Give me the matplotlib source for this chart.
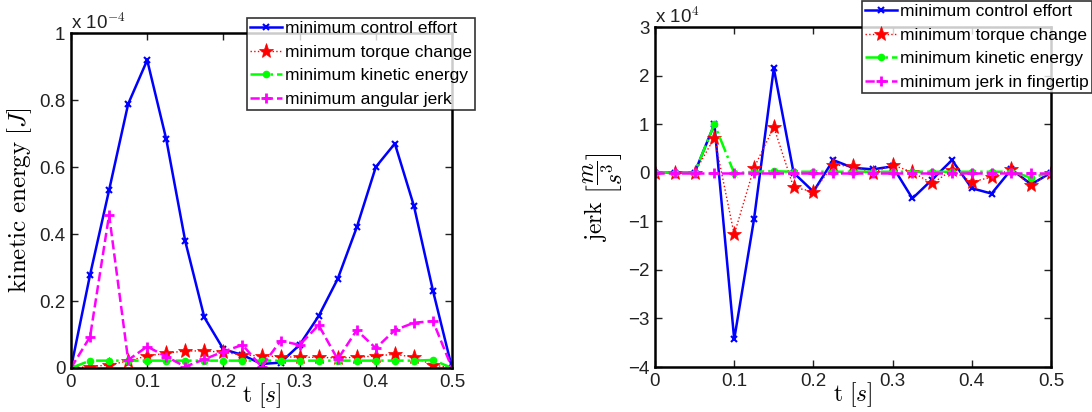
import matplotlib
matplotlib.use("Agg")
import matplotlib.pyplot as plt
import numpy as np

plt.rcParams['font.family'] = ['Liberation Sans', 'DejaVu Sans']
plt.rcParams['mathtext.fontset'] = 'cm'

t = [0, 0.025, 0.05, 0.075, 0.1, 0.125, 0.15, 0.175, 0.2, 0.225, 0.25,
     0.275, 0.3, 0.325, 0.35, 0.375, 0.4, 0.425, 0.45, 0.475, 0.5]

# Kinetic energy, in units of 1e-4 J
ke_control = [0, 0.278, 0.531, 0.788, 0.919, 0.683, 0.378, 0.151, 0.056, 0.039, 0.012,
              0.016, 0.069, 0.155, 0.266, 0.42, 0.60, 0.67, 0.484, 0.231, 0]
ke_torque = [0, 0.004, 0.009, 0.021, 0.036, 0.044, 0.051, 0.051, 0.047, 0.039, 0.036,
             0.034, 0.032, 0.032, 0.030, 0.032, 0.036, 0.041, 0.032, 0.009, 0]
ke_kinetic = [0, 0.022, 0.022, 0.022, 0.022, 0.022, 0.022, 0.022, 0.022, 0.022, 0.022,
              0.022, 0.022, 0.022, 0.022, 0.022, 0.022, 0.022, 0.022, 0.024, 0]
ke_angjerk = [0, 0.093, 0.457, 0.024, 0.064, 0.034, 0.004, 0.026, 0.049, 0.069, 0.004,
              0.081, 0.069, 0.128, 0.026, 0.113, 0.059, 0.113, 0.135, 0.140, 0]

# Jerk, in units of 1e4 m/s^3
jk_control = [0, 0, 0, 1.0, -3.43, -0.96, 2.15, 0.0, -0.39, 0.26, 0.10,
              0.07, 0.13, -0.53, -0.14, 0.26, -0.32, -0.43, 0.07, -0.24, 0]
jk_torque = [0, 0, 0, 0.72, -1.27, 0.10, 0.94, -0.30, -0.39, 0.16, 0.13,
             0.0, 0.16, 0.01, -0.22, 0.05, -0.19, -0.09, 0.07, -0.26, 0]
jk_kinetic = [0, 0, 0, 1.0, -0.01, 0.02, 0.03, 0.02, 0.02, 0.02, 0.02,
              0.02, 0.02, 0.02, 0.02, 0.02, 0.02, 0.02, 0.02, -0.10, 0]
jk_fingertip = [0] * 21

legend_left = ['minimum control effort', 'minimum torque change',
               'minimum kinetic energy', 'minimum angular jerk']
legend_right = ['minimum control effort', 'minimum torque change',
                'minimum kinetic energy', 'minimum jerk in fingertip']

fig = plt.figure(figsize=(10.92, 4.12), dpi=100)
ax1 = fig.add_axes([71/1092, 1-368/412, (452-71)/1092, (368-33)/412])
ax2 = fig.add_axes([655/1092, 1-367/412, (1051-655)/1092, (367-27)/412])

blue = '#0000ff'
red = '#ff0000'
green = '#00ff00'
mag = '#ff00ff'


def draw(ax, ys, labels):
    ax.plot(t, ys[0], '-', color=blue, lw=1.8, marker='x', ms=4, mew=1.5, label=labels[0])
    ax.plot(t, ys[1], ':', color=red, lw=1.0, marker='*', ms=11, mew=0.5,
            label=labels[1])
    ax.plot(t, ys[2], '-.', color=green, lw=1.8, marker='.', ms=9, label=labels[2])
    ax.plot(t, ys[3], '--', color=mag, lw=1.8, marker='+', ms=7, mew=2, label=labels[3])


draw(ax1, [ke_control, ke_torque, ke_kinetic, ke_angjerk], legend_left)
draw(ax2, [jk_control, jk_torque, jk_kinetic, jk_fingertip], legend_right)

for ax in (ax1, ax2):
    ax.set_xlim(0, 0.5)
    ax.set_xticks([0, 0.1, 0.2, 0.3, 0.4, 0.5])
    ax.set_xticklabels(['0', '0.1', '0.2', '0.3', '0.4', '0.5'])
    ax.tick_params(direction='in', top=True, right=True, length=5, width=1,
                   labelsize=13.5, colors='#222222', pad=4)
    for s in ax.spines.values():
        s.set_linewidth(1.8)
        s.set_color('black')
    ax.set_xlabel(r'$\mathrm{t}\ [s]$', fontsize=17, labelpad=-7)

ax1.set_ylim(0, 1)
ax1.set_yticks([0, 0.2, 0.4, 0.6, 0.8, 1])
ax1.set_yticklabels(['0', '0.2', '0.4', '0.6', '0.8', '1'])
ax1.set_ylabel(r'$\mathrm{kinetic\ energy}\ [J]$', fontsize=18, labelpad=4)
ax1.text(0.0, 1.0, r'x 10$^{-4}$', transform=ax1.transAxes, fontsize=13.5,
         color='#222222', va='bottom', ha='left')

ax2.set_ylim(-4, 3)
ax2.set_yticks([-4, -3, -2, -1, 0, 1, 2, 3])
ax2.set_yticklabels(['\u22124', '\u22123', '\u22122', '\u22121', '0', '1', '2', '3'])
ax2.set_ylabel(r'$\mathrm{jerk}\ \left[\dfrac{m}{s^3}\right]$', fontsize=17, labelpad=2)
ax2.text(0.0, 1.0, r'x 10$^{4}$', transform=ax2.transAxes, fontsize=13.5,
         color='#222222', va='bottom', ha='left')

leg_kw = dict(fontsize=12.5, frameon=True, fancybox=False, edgecolor='black',
              borderpad=0.15, labelspacing=0.5, handlelength=1.85, handletextpad=0.2,
              borderaxespad=0)
l1 = ax1.legend(loc='upper left', bbox_to_anchor=(247/1092, 1-18/412),
                bbox_transform=fig.transFigure, **leg_kw)
l2 = ax2.legend(loc='upper left', bbox_to_anchor=(862/1092, 1-1/412),
                bbox_transform=fig.transFigure, **leg_kw)
for l in (l1, l2):
    l.get_frame().set_linewidth(1.2)
    l.set_zorder(10)

fig.savefig('out.png', dpi=100)
